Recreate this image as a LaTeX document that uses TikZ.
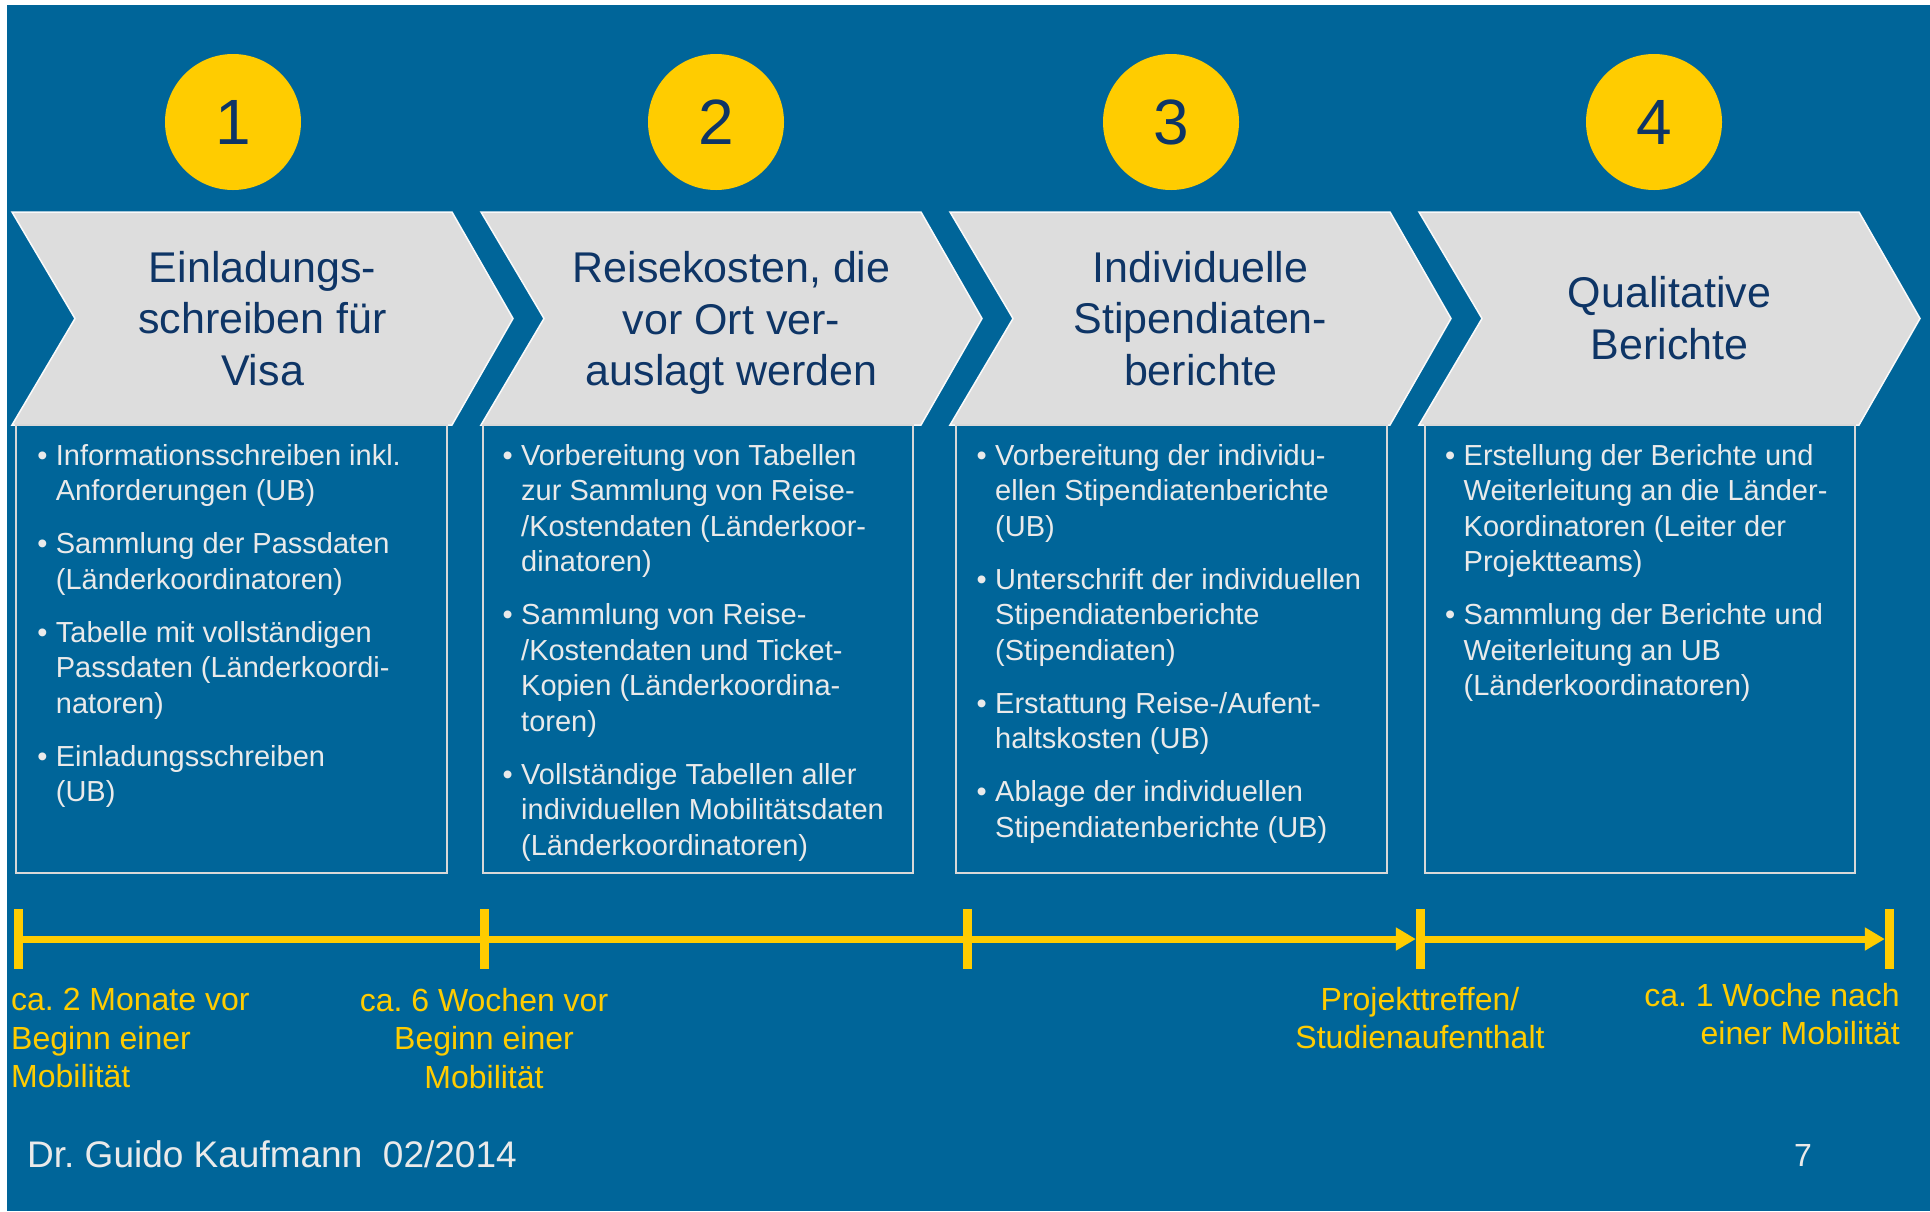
\documentclass[tikz,border=0pt]{standalone}
\usepackage{fontspec}
\setmainfont{Liberation Sans}
\usetikzlibrary{arrows.meta}
\definecolor{bgblue}{HTML}{006599}
\definecolor{chevfill}{HTML}{DDDDDD}
\definecolor{navy}{HTML}{0E3566}
\definecolor{gold}{HTML}{FFCC00}
\definecolor{bodytxt}{HTML}{EAEAEA}
\definecolor{boxline}{HTML}{D8D8D8}
\newcommand{\bulmark}{\makebox[18.5pt][l]{\textbullet}}
\newcommand{\bulind}{\hspace*{18.5pt}}
\frenchspacing
\begin{document}
\begin{tikzpicture}[x=1pt,y=-1pt,
  chevron/.style={fill=chevfill, draw=white!85!chevfill, line width=1.5pt, line join=miter},
  numcirc/.style={circle, fill=gold, minimum size=136pt, inner sep=0pt, text=navy,
    font=\fontsize{64}{64}\selectfont},
  headline/.style={align=center, text=navy, inner sep=0pt, font=\fontsize{43}{51.5}\selectfont},
  infobox/.style={draw=boxline, line width=1.8pt},
  bodytext/.style={align=left, text=bodytxt, anchor=north west, inner sep=0pt,
    font=\fontsize{29}{35.5}\selectfont},
  tickmark/.style={fill=gold, inner sep=0pt, minimum width=9pt, minimum height=60pt},
  tline/.style={draw=gold, line width=7pt},
  tarrow/.style={tline, -{Triangle[length=20pt,width=22pt]}},
  tlabel/.style={text=gold, inner sep=0pt, font=\fontsize{32}{38.5}\selectfont},
  footer/.style={text=bodytxt, inner sep=0pt, anchor=base}
]
\useasboundingbox (0,0) rectangle (1930,1211);
\fill[bgblue] (7,5) rectangle (1930,1211);

% circles
\node[numcirc] (c1) at (233,122) {1};
\node[numcirc] (c2) at (716,122) {2};
\node[numcirc] (c3) at (1171,122) {3};
\node[numcirc] (c4) at (1654,122) {4};

% chevrons
\foreach \L/\nm in {12/ch1, 481/ch2, 950/ch3, 1419/ch4}{
  \draw[chevron] (\L,212) -- (\L+440,212) -- (\L+501,318.5) -- (\L+440,425)
    -- (\L,425) -- (\L+63,318.5) -- cycle;
}
\node[headline] (h1) at (262.5,318.6) {Einladungs-\\schreiben für\\Visa};
\node[headline] (h2) at (731.5,323.2) {Reisekosten, die\\vor Ort ver-\\auslagt werden};
\node[headline] (h3) at (1200.5,318.6) {Individuelle\\Stipendiaten-\\berichte};
\node[headline] (h4) at (1669.5,318.2) {Qualitative\\Berichte};

% boxes
\draw[infobox] (16,425) rectangle (447,873);
\draw[infobox] (483,425) rectangle (913,873);
\draw[infobox] (956,425) rectangle (1387,873);
\draw[infobox] (1425,425) rectangle (1855,873);

\node[bodytext] (t1) at (37.2,443.8) {%
\bulmark Informationsschreiben inkl.\\
\bulind Anforderungen (UB)\\[17.5pt]
\bulmark Sammlung der Passdaten\\
\bulind (Länderkoordinatoren)\\[17.5pt]
\bulmark Tabelle mit vollständigen\\
\bulind Passdaten (Länderkoordi-\\
\bulind natoren)\\[17.5pt]
\bulmark Einladungsschreiben\\
\bulind (UB)};

\node[bodytext] (t2) at (502.5,443.8) {%
\bulmark Vorbereitung von Tabellen\\
\bulind zur Sammlung von Reise-\\
\bulind /Kostendaten (Länderkoor-\\
\bulind dinatoren)\\[17.5pt]
\bulmark Sammlung von Reise-\\
\bulind /Kostendaten und Ticket-\\
\bulind Kopien (Länderkoordina-\\
\bulind toren)\\[17.5pt]
\bulmark Vollständige Tabellen aller\\
\bulind individuellen Mobilitätsdaten\\
\bulind (Länderkoordinatoren)};

\node[bodytext] (t3) at (976.5,443.8) {%
\bulmark Vorbereitung der individu-\\
\bulind ellen Stipendiatenberichte\\
\bulind (UB)\\[17.5pt]
\bulmark Unterschrift der individuellen\\
\bulind Stipendiatenberichte\\
\bulind (Stipendiaten)\\[17.5pt]
\bulmark Erstattung Reise-/Aufent-\\
\bulind haltskosten (UB)\\[17.5pt]
\bulmark Ablage der individuellen\\
\bulind Stipendiatenberichte (UB)};

\node[bodytext] (t4) at (1445,443.8) {%
\bulmark Erstellung der Berichte und\\
\bulind Weiterleitung an die Länder-\\
\bulind Koordinatoren (Leiter der\\
\bulind Projektteams)\\[17.5pt]
\bulmark Sammlung der Berichte und\\
\bulind Weiterleitung an UB\\
\bulind (Länderkoordinatoren)};

% timeline
\node[tickmark] (k1) at (18.5,939) {};
\node[tickmark] (k2) at (484,939) {};
\node[tickmark] (k3) at (967.5,939) {};
\node[tickmark] (k4) at (1420.5,939) {};
\node[tickmark] (k5) at (1889.5,939) {};
\draw[tline] (k1.center) -- (k2.center);
\draw[tline] (k2.center) -- (k3.center);
\draw[tarrow] (k3.center) -- (k4.west);
\draw[tarrow] (k4.center) -- (k5.west);

\node[tlabel, align=left, anchor=north west] (l1) at (11,988)
  {ca. 2 Monate vor\\Beginn einer\\Mobilität};
\node[tlabel, align=center, anchor=north] (l2) at (484,988)
  {ca. 6 Wochen vor\\Beginn einer\\Mobilität};
\node[tlabel, align=center, anchor=north] (l3) at (1420,986.7)
  {Projekttreffen/\\Studienaufenthalt};
\node[tlabel, align=right, anchor=north east] (l4) at (1900,983)
  {ca. 1 Woche nach\\einer Mobilität};

% footer
\node[footer, anchor=base west, font=\fontsize{37}{37}\selectfont] (author) at (27,1167)
  {Dr. Guido Kaufmann\ \ 02/2014};
\node[footer, font=\fontsize{32}{32}\selectfont] (page) at (1803,1166) {7};
\end{tikzpicture}
\end{document}
